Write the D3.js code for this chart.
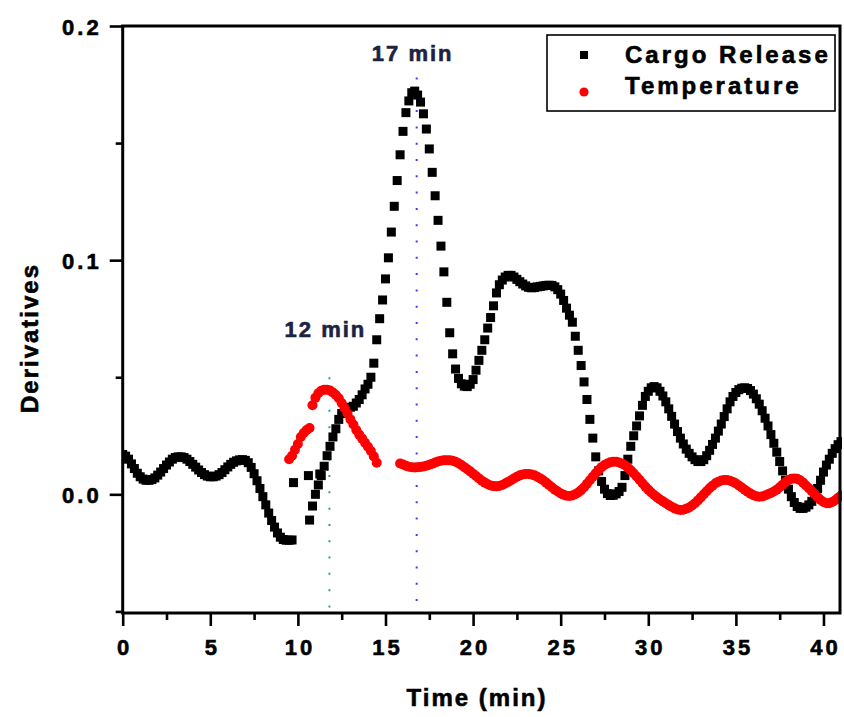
<!DOCTYPE html>
<html><head><meta charset="utf-8">
<script src="https://cdn.jsdelivr.net/npm/d3@7"></script>
<style>
body{margin:0;background:#fff}
text{font-family:"Liberation Sans",Arial,sans-serif;font-weight:bold}
</style>
</head><body><svg id="c" width="844" height="717"></svg>
<script>
// ---- data (time step between samples: 1/6 min) ----
const sampleStep = 1/6;
const cargoStartA = 0;
const cargoA = [0.0170,0.0163,0.0150,0.0130,0.0110,0.0090,0.0075,0.0065,0.0060,0.0060,
0.0063,0.0070,0.0082,0.0095,0.0110,0.0125,0.0138,0.0150,0.0157,0.0160,
0.0160,0.0157,0.0150,0.0140,0.0128,0.0116,0.0104,0.0093,0.0084,0.0078,
0.0075,0.0075,0.0078,0.0084,0.0093,0.0105,0.0117,0.0128,0.0137,0.0143,
0.0147,0.0148,0.0145,0.0135,0.0115,0.0088,0.0058,0.0025,-0.0010,-0.0045,
-0.0080,-0.0112,-0.0140,-0.0165,-0.0183,-0.0193,-0.0196,-0.0196,-0.0195];
const cargoStartB = 64/6;
const cargoB = [-0.011,-0.005,0.000,0.004,0.008,0.012,0.0165,0.0205,0.0245,0.028,
0.032,0.0345,0.036,0.037,0.0372,0.0376,0.0390,0.0405,0.0425,0.045,
0.047,0.050,0.056,0.066,0.075,0.083,0.092,0.101,0.112,0.123,
0.134,0.145,0.155,0.163,0.168,0.1715,0.1722,0.1705,0.1675,0.1625,
0.1560,0.1475,0.1375,0.1275,0.1170,0.1060,0.0950,0.0820,0.0690,0.0600,
0.0535,0.0495,0.0472,0.0462,0.0460,0.0470,0.0490,0.0530,0.0572,0.0615,
0.0660,0.0710,0.0755,0.0805,0.0860,0.0895,0.0915,0.0928,0.0935,0.0935,
0.0928,0.0918,0.0908,0.0898,0.0890,0.0884,0.0882,0.0883,0.0886,0.0888,
0.0890,0.0892,0.0893,0.0892,0.0886,0.0874,0.0855,0.0828,0.0795,0.0765,
0.0735,0.0675,0.0615,0.0550,0.0480,0.0405,0.0320,0.0240,0.0160,0.0100,
0.0055,0.0022,0.0003,-0.0005,-0.0004,0.0002,0.0012,0.0030,0.0080,0.0150,
0.0205,0.0250,0.0292,0.0335,0.0380,0.0418,0.0440,0.0455,0.0460,0.0455,
0.0440,0.0420,0.0395,0.0365,0.0333,0.0300,0.0268,0.0240,0.0215,0.0193,
0.0175,0.0160,0.0148,0.0140,0.0140,0.0148,0.0165,0.0188,0.0213,0.0240,
0.0270,0.0300,0.0332,0.0365,0.0395,0.0418,0.0435,0.0447,0.0453,0.0455,
0.0452,0.0443,0.0428,0.0408,0.0385,0.0357,0.0325,0.0292,0.0255,0.0218,
0.0180,0.0140,0.0100,0.0060,0.0022,-0.0010,-0.0035,-0.0052,-0.0060,-0.0060,
-0.0055,-0.0045,-0.0030,-0.0005,0.0025,0.0060,0.0095,0.0125,0.0150,0.0175,
0.0195,0.0212,0.0225];
const cargoExtraT = [9.75, 10.6, 11.25];
const cargoExtraV = [0.005, 0.008, 0.0087];

const tempStart1 = 57/6;
const temp1 = [0.0150,0.0165,0.0190,0.0215,0.0245,0.0262,0.0275,0.0283];
const tempStart2 = 65/6;
const temp2 = [0.038,0.0412,0.0432,0.0442,0.0447,0.0447,0.0443,0.0435,0.0424,0.041,
0.039,0.0368,0.0345,0.032,0.0298,0.0275,0.0255,0.0238,0.022,0.0203,
0.0185,0.0162,0.0135];
const tempStart3 = 95/6;
const temp3 = [0.0132,0.0127,0.0122,0.0118,0.0116,0.0115,0.0116,0.0117,0.0119,0.0122,
0.0126,0.0131,0.0136,0.0140,0.0143,0.0145,0.0146,0.0145,0.0143,0.0139,
0.0133,0.0125,0.0116,0.0107,0.0098,0.0088,0.0078,0.0068,0.0058,0.0050,
0.0043,0.0038,0.0035,0.0034,0.0036,0.0040,0.0046,0.0053,0.0060,0.0068,
0.0075,0.0081,0.0085,0.0087,0.0087,0.0085,0.0081,0.0075,0.0068,0.0060,
0.0050,0.0040,0.0030,0.0020,0.0012,0.0004,-0.0002,-0.0006,-0.0007,-0.0005,
0.0000,0.0008,0.0018,0.0030,0.0045,0.0060,0.0075,0.0090,0.0104,0.0116,
0.0125,0.0132,0.0137,0.0139,0.0139,0.0136,0.0131,0.0124,0.0114,0.0103,
0.0090,0.0076,0.0062,0.0047,0.0033,0.0020,0.0008,-0.0003,-0.0013,-0.0022,
-0.0030,-0.0038,-0.0046,-0.0053,-0.0060,-0.0065,-0.0067,-0.0066,-0.0062,-0.0056,
-0.0048,-0.0038,-0.0026,-0.0013,0.0000,0.0013,0.0026,0.0037,0.0047,0.0054,
0.0059,0.0061,0.0061,0.0058,0.0053,0.0046,0.0038,0.0029,0.0020,0.0011,
0.0003,-0.0004,-0.0008,-0.0010,-0.0009,-0.0005,0.0000,0.0006,0.0012,0.0020,
0.0030,0.0041,0.0052,0.0061,0.0066,0.0068,0.0066,0.0060,0.0050,0.0038,
0.0026,0.0013,0.0000,-0.0012,-0.0024,-0.0033,-0.0038,-0.0038,-0.0033,-0.0025,
-0.0015,-0.0005];

const xMajor = [0,5,10,15,20,25,30,35,40];
const xMinor = [2.5,7.5,12.5,17.5,22.5,27.5,32.5,37.5];
const yMajor = [0.0,0.1,0.2];
const yMinor = [-0.05,0.05,0.15];
const markerTimes = [11.8, 16.78];
const markerLabels = ["12 min", "17 min"];
const markerLabelValues = [0.067, 0.185];
const markerTopValues = [0.05, 0.178];
const seriesNames = ["Cargo Release", "Temperature"];
const xTitle = "Time (min)", yTitle = "Derivatives";

// ---- build ----
function seg(start, vals){ return vals.map((v,i)=>({t:start+i*sampleStep, v})); }
const cargo = seg(cargoStartA,cargoA).concat(seg(cargoStartB,cargoB))
  .concat(cargoExtraT.map((t,i)=>({t, v:cargoExtraV[i]})));
const temp = seg(tempStart1,temp1).concat(seg(tempStart2,temp2)).concat(seg(tempStart3,temp3));

const svg = d3.select("#c");
const L=122.7, R=840, T=26, B=613;
const x = d3.scaleLinear().domain([0,41]).range([122.7, 841]);
const y = d3.scaleLinear().domain([-0.05,0.2]).range([611.4, 26]);

svg.append("clipPath").attr("id","clip").append("rect")
  .attr("x",L).attr("y",T).attr("width",R-L+2).attr("height",B-T);

function heavy(sel, col){
  return sel.attr("stroke",col||"#000").attr("stroke-width",0.6)
    .attr("paint-order","stroke");
}

// dotted marker lines
const mColors = ["#2a9d9d","#3b3bff"];
markerTimes.forEach((t,i)=>{
  svg.append("line").attr("x1",x(t)).attr("x2",x(t))
    .attr("y1",y(markerTopValues[i])).attr("y2",B)
    .attr("stroke",mColors[i]).attr("stroke-width",2)
    .attr("stroke-dasharray","2,14.3");
  heavy(svg.append("text").attr("x",x(t)-4).attr("y",y(markerLabelValues[i]))
    .attr("text-anchor","middle").attr("fill","#1c2242")
    .style("font-size","22px").style("letter-spacing","2px")
    .text(markerLabels[i]), "#1c2242");
});

const g = svg.append("g").attr("clip-path","url(#clip)");
g.selectAll("rect.c").data(cargo).enter().append("rect").attr("class","c")
  .attr("x",d=>x(d.t)-4.5).attr("y",d=>y(d.v)-4.5).attr("width",9).attr("height",9)
  .attr("fill","#000");
g.selectAll("circle.t").data(temp).enter().append("circle").attr("class","t")
  .attr("cx",d=>x(d.t)).attr("cy",d=>y(d.v)).attr("r",5).attr("fill","#ff0000");

// frame
svg.append("rect").attr("x",L).attr("y",T).attr("width",R-L).attr("height",B-T)
  .attr("fill","none").attr("stroke","#000").attr("stroke-width",3);

// axes
const xa = svg.append("g").attr("transform",`translate(0,${B})`)
  .call(d3.axisBottom(x).tickValues(xMajor).tickSize(13).tickFormat(d3.format("d")));
const xm = svg.append("g").attr("transform",`translate(0,${B})`)
  .call(d3.axisBottom(x).tickValues(xMinor).tickSize(7).tickFormat(""));
const ya = svg.append("g").attr("transform",`translate(${L},0)`)
  .call(d3.axisLeft(y).tickValues(yMajor).tickSize(13).tickFormat(d3.format(".1f")));
const ym = svg.append("g").attr("transform",`translate(${L},0)`)
  .call(d3.axisLeft(y).tickValues(yMinor).tickSize(7).tickFormat(""));
[xa,xm,ya,ym].forEach(a=>{
  a.select(".domain").remove();
  a.selectAll(".tick line").attr("stroke","#000").attr("stroke-width",2.6);
});
heavy(xa.selectAll(".tick text").attr("y",42).attr("dy",0).attr("dx",1.5)
  .attr("fill","#000").style("font-size","22px").style("letter-spacing","3px")
  .style("font-family","'Liberation Sans',Arial,sans-serif").style("font-weight","bold"));
heavy(ya.selectAll(".tick text").attr("x",-21).attr("dy",8).attr("fill","#000")
  .style("font-size","22px").style("letter-spacing","3px")
  .style("font-family","'Liberation Sans',Arial,sans-serif").style("font-weight","bold"));

// titles
heavy(svg.append("text").attr("x",477).attr("y",706).attr("text-anchor","middle")
  .style("font-size","24px").style("letter-spacing","2px").text(xTitle));
heavy(svg.append("text").attr("transform","translate(38,338) rotate(-90)")
  .attr("text-anchor","middle")
  .style("font-size","24px").style("letter-spacing","2px").text(yTitle));

// legend
const lg = svg.append("g");
lg.append("rect").attr("x",547).attr("y",35).attr("width",288).attr("height",76)
  .attr("fill","#fff").attr("stroke","#000").attr("stroke-width",1.6);
lg.append("rect").attr("x",580).attr("y",51).attr("width",8).attr("height",8).attr("fill","#000");
lg.append("circle").attr("cx",584).attr("cy",92).attr("r",4.6).attr("fill","#ff0000");
heavy(lg.append("text").attr("x",625).attr("y",63).style("font-size","24px")
  .style("letter-spacing","3px").text(seriesNames[0]));
heavy(lg.append("text").attr("x",625).attr("y",94).style("font-size","24px")
  .style("letter-spacing","3px").text(seriesNames[1]));
</script></body></html>
